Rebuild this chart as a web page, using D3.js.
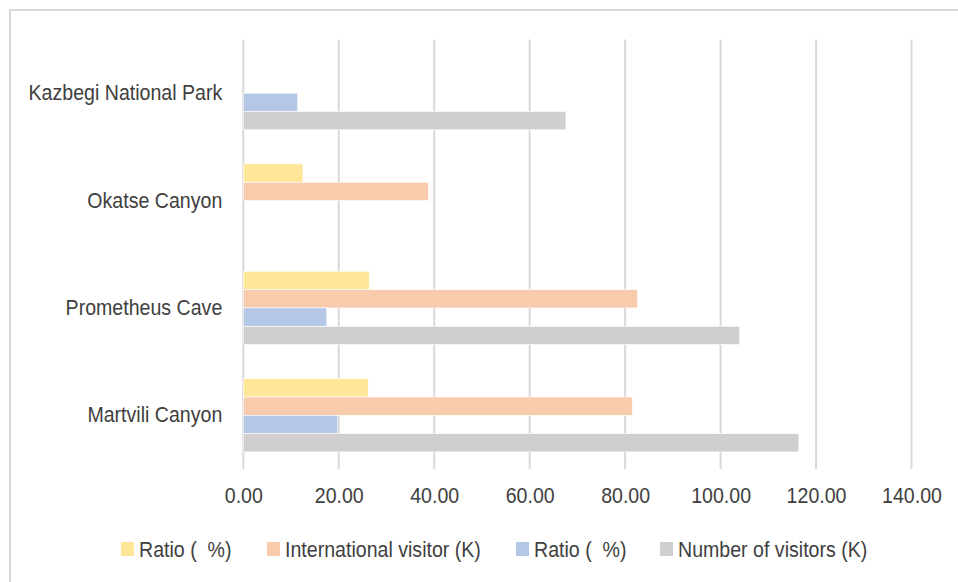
<!DOCTYPE html>
<html>
<head>
<meta charset="utf-8">
<script src="https://cdn.jsdelivr.net/npm/d3@7/dist/d3.min.js"></script>
<style>
  html, body { margin: 0; padding: 0; background: #fff; }
  svg { display: block; }
  text { font-family: "Liberation Sans Narrow", "Arial Narrow", "Liberation Sans", Arial, sans-serif; fill: #404040; }
</style>
</head>
<body>
<svg id="chart" width="958" height="582"></svg>
<script>
// Sites, listed top to bottom
const categories = ["Kazbegi National Park", "Okatse Canyon", "Prometheus Cave", "Martvili Canyon"];

// Series, in the order they stack inside each group (top to bottom)
const seriesNames = ["Ratio (  %)", "International visitor (K)", "Ratio (  %)", "Number of visitors (K)"];
const seriesColors = ["#FFE699", "#F8CBAD", "#B4C7E7", "#D0CECE"];

const ratioIntl = [null, 12.5, 26.4, 26.2];
const intlVisitors = [null, 38.8, 82.6, 81.5];
const ratioTotal = [11.4, null, 17.5, 19.8];
const totalVisitors = [67.6, null, 104.0, 116.4];

const tickValues = [0, 20, 40, 60, 80, 100, 120, 140];

const seriesValues = [ratioIntl, intlVisitors, ratioTotal, totalVisitors];

const svg = d3.select("#chart");

// narrow the text horizontally, like a condensed face
function condense(sel, k = 0.89) {
  sel.each(function () {
    const len = this.getComputedTextLength();
    d3.select(this).attr("textLength", len * k).attr("lengthAdjust", "spacingAndGlyphs");
  });
}

// chart frame
svg.append("rect")
  .attr("x", 10).attr("y", 10)
  .attr("width", 960).attr("height", 600)
  .attr("fill", "#fff")
  .attr("stroke", "#d9d9d9")
  .attr("stroke-width", 2);

const plot = { left: 243.3, right: 911.5, top: 39.5, bottom: 469 };

const x = d3.scaleLinear().domain([0, 140]).range([plot.left, plot.right]);

const y = d3.scaleBand()
  .domain(categories)
  .range([plot.top, plot.bottom])
  .paddingInner(0.318)
  .paddingOuter(0.159);

const ySub = d3.scaleBand()
  .domain(d3.range(seriesNames.length))
  .range([0, y.bandwidth()]);

// vertical gridlines
svg.append("g")
  .selectAll("line")
  .data(tickValues)
  .join("line")
  .attr("x1", d => x(d)).attr("x2", d => x(d))
  .attr("y1", plot.top).attr("y2", plot.bottom)
  .attr("stroke", "#d9d9d9")
  .attr("stroke-width", 2);

// bars
const groups = svg.append("g")
  .selectAll("g")
  .data(categories)
  .join("g")
  .attr("transform", d => `translate(0,${y(d)})`);

groups.selectAll("rect")
  .data((c, ci) => seriesValues.map((vals, si) => ({ si, v: vals[ci] })).filter(d => d.v != null))
  .join("rect")
  .attr("x", x(0))
  .attr("y", d => ySub(d.si))
  .attr("width", d => x(d.v) - x(0))
  .attr("height", ySub.bandwidth())
  .attr("fill", d => seriesColors[d.si])
  .attr("stroke", "#fff")
  .attr("stroke-width", 0.6);

// category labels
const yAxis = d3.axisLeft(y).tickSize(0).tickPadding(21);
const yg = svg.append("g")
  .attr("transform", `translate(${plot.left},0)`)
  .call(yAxis);
yg.select(".domain").remove();
yg.selectAll("text")
  .style("font-size", "22px")
  .attr("fill", "#404040")
  .call(condense);

// value axis
const xAxis = d3.axisBottom(x).tickValues(tickValues).tickFormat(d3.format(".2f")).tickSize(0).tickPadding(18);
const xg = svg.append("g")
  .attr("transform", `translate(0,${plot.bottom})`)
  .call(xAxis);
xg.select(".domain").remove();
xg.selectAll("text")
  .style("font-size", "22px")
  .attr("fill", "#404040")
  .call(condense);

// legend
const legendX = [121, 267, 516, 660];
const legend = svg.append("g").attr("transform", "translate(0,549)");
const items = legend.selectAll("g")
  .data(seriesNames)
  .join("g")
  .attr("transform", (d, i) => `translate(${legendX[i]},0)`);
items.append("rect")
  .attr("x", 0).attr("y", -7)
  .attr("width", 13).attr("height", 14)
  .attr("fill", (d, i) => seriesColors[i]);
items.append("text")
  .attr("x", 18)
  .attr("y", 0)
  .attr("dy", "0.35em")
  .style("font-size", "22px")
  .style("white-space", "pre")
  .attr("xml:space", "preserve")
  .text(d => d)
  .call(condense);
</script>
</body>
</html>
